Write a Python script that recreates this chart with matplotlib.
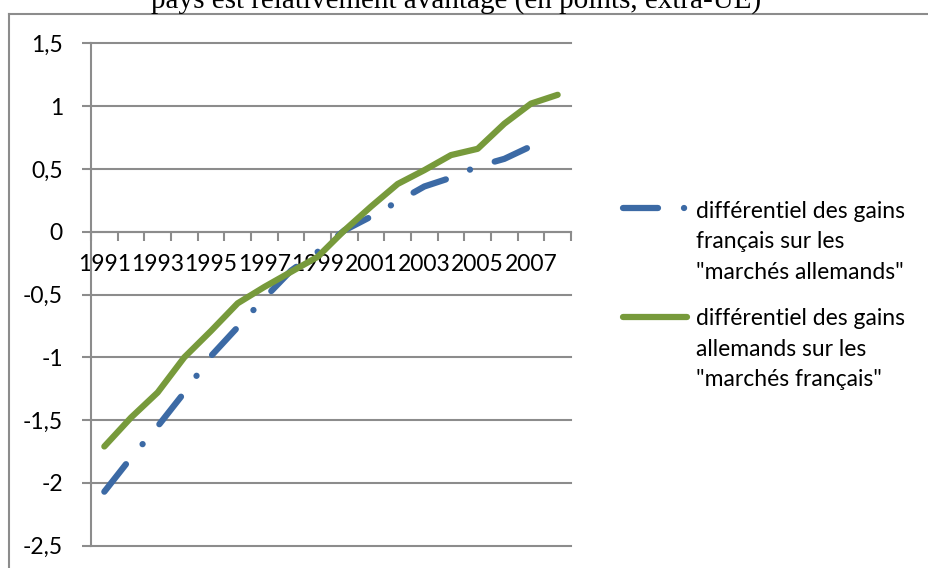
import numpy as np
import matplotlib
matplotlib.use("Agg")
import matplotlib.pyplot as plt
from matplotlib.lines import Line2D

plt.rcParams["lines.scale_dashes"] = False

# ---- data ----
years = list(range(1991, 2009))
fr_gains = [-2.07, -1.80, -1.55, -1.28, -0.99, -0.76, -0.53, -0.31, -0.16,
            0.01, 0.12, 0.24, 0.36, 0.43, 0.52, 0.58, 0.68, float("nan")]
de_gains = [-1.71, -1.48, -1.28, -1.00, -0.79, -0.57, -0.44, -0.32, -0.20,
            0.01, 0.20, 0.38, 0.49, 0.61, 0.66, 0.86, 1.02, 1.09]
x_tick_labels = ["1991", "1993", "1995", "1997", "1999", "2001", "2003", "2005", "2007"]
y_ticks = [1.5, 1.0, 0.5, 0.0, -0.5, -1.0, -1.5, -2.0, -2.5]
y_tick_labels = ["1,5", "1", "0,5", "0", "-0,5", "-1", "-1,5", "-2", "-2,5"]
legend_labels = ['différentiel des gains\nfrançais sur les\n"marchés allemands"',
                 'différentiel des gains\nallemands sur les\n"marchés français"']
title = "pays est relativement avantagé (en points, extra-UE)"

# ---- styles ----
W, H = 929, 568
BLUE = "#3c6aa5"
GREEN = "#779a3b"
GRAY = "#8c8c8c"
FONT = "Lato"
FS = 16.5
LW = 4.5
DASH = [25.2, 18.7, 0.1, 18.7]

fig = plt.figure(figsize=(W / 100, H / 100), dpi=100)
ax = fig.add_axes([91 / W, (H - 545.7) / H, (571 - 91) / W, (545.7 - 43.3) / H])

x = np.arange(len(years))
lb, = ax.plot(x, fr_gains, color=BLUE, lw=LW, dash_capstyle="round",
              solid_capstyle="round", solid_joinstyle="round", zorder=3)
lb.set_dashes(DASH)
lg, = ax.plot(x, de_gains, color=GREEN, lw=LW, solid_capstyle="round",
              solid_joinstyle="round", zorder=4)

ax.set_xlim(-0.5, len(years) - 0.5)
ax.set_ylim(-2.5, 1.5)

# axes styling
for s in ["top", "right"]:
    ax.spines[s].set_visible(False)
ax.spines["bottom"].set_position(("data", 0))
ax.spines["bottom"].set_color(GRAY)
ax.spines["bottom"].set_linewidth(1.5)
ax.spines["left"].set_color(GRAY)
ax.spines["left"].set_linewidth(1.5)

ax.set_yticks(y_ticks)
ax.set_yticklabels(y_tick_labels, fontfamily=FONT, fontsize=FS)
ax.tick_params(axis="y", direction="out", length=6.5, width=1.5, color=GRAY, pad=13.7)
ax.yaxis.grid(True, color=GRAY, lw=1.5)
for gl in ax.get_ygridlines():
    gl.set_clip_on(False)
ax.set_axisbelow(True)

ax.set_xticks(np.arange(-0.5, len(years), 1.0))
ax.set_xticklabels([])
ax.tick_params(axis="x", which="major", direction="out", length=6.5, width=1.5, color=GRAY)
ax.set_xticks(x[::2], minor=True)
ax.set_xticklabels(x_tick_labels, minor=True, fontfamily=FONT, fontsize=FS)
ax.tick_params(axis="x", which="minor", length=0, pad=16)

# title (its upper part is cut at the top edge, as in the reference)
fig.text(456 / W, 1 - 8 / H, title, ha="center", va="baseline",
         fontfamily="Liberation Serif", fontsize=21)

# outer chart-area border
fig.add_artist(Line2D([9 / W, 1.01], [1 - 14 / H, 1 - 14 / H], transform=fig.transFigure,
                      color=GRAY, lw=1.5))
fig.add_artist(Line2D([9 / W, 9 / W], [-0.01, 1 - 14 / H], transform=fig.transFigure,
                      color=GRAY, lw=1.5))

# legend (handle aligned with the first label line)
leg_specs = [(lb, 208, 218), (lg, 317, 325)]
for (line, hy, by), lab in zip(leg_specs, legend_labels):
    h = Line2D([623 / W, 687 / W], [1 - hy / H, 1 - hy / H], transform=fig.transFigure,
               color=line.get_color(), lw=LW, solid_capstyle="round", dash_capstyle="round")
    if line is lb:
        h.set_dashes(DASH)
    fig.add_artist(h)
    for i, part in enumerate(lab.split("\n")):
        fig.text(696 / W, 1 - (by + 30.5 * i) / H, part, ha="left", va="baseline",
                 fontfamily=FONT, fontsize=FS)

fig.savefig("out.png", dpi=100)
